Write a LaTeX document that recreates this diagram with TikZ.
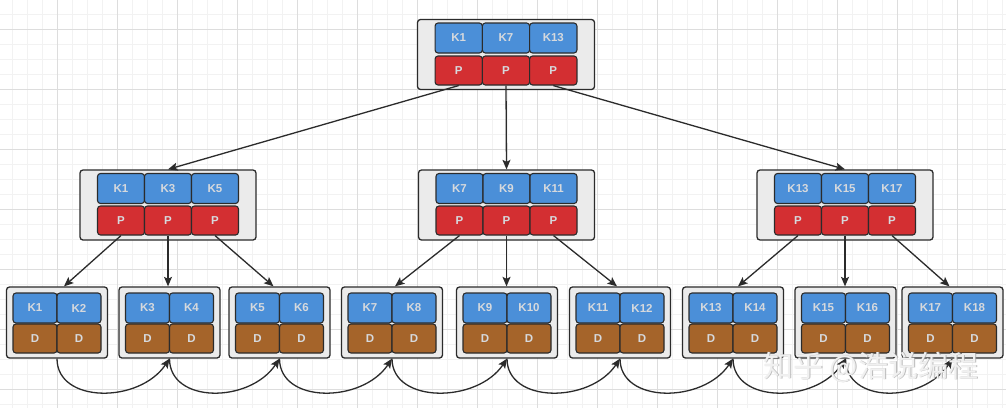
\documentclass[tikz,border=0pt]{standalone}
\usepackage{fontspec}
\setmainfont{Liberation Sans}
\newfontfamily\cjkfont{Noto Sans CJK SC}
\usetikzlibrary{arrows.meta,calc}
\definecolor{kblue}{HTML}{4B8FD8}
\definecolor{pred}{HTML}{D32F32}
\definecolor{dbrown}{HTML}{A5642A}
\definecolor{boxgray}{HTML}{EBEBEB}
\definecolor{edge}{HTML}{2B2B2B}
\definecolor{celltext}{HTML}{D6D9DD}
\definecolor{gridminor}{HTML}{F2F2F2}
\definecolor{gridmajor}{HTML}{DDDDDD}
\definecolor{wmfill}{HTML}{F0F0F0}
\definecolor{wmedge}{HTML}{A0A0A0}
\tikzset{
  outerbox/.style 2 args={draw=edge, fill=boxgray, rounded corners=3pt, line width=1.3pt, minimum width=#1, minimum height=#2, inner sep=0pt},
  cellbase/.style={draw=edge, line width=1.1pt, rounded corners=3pt, inner sep=0pt, text=celltext, font=\bfseries\fontsize{11.5}{11.5}\selectfont},
  kcell/.style={cellbase, fill=kblue, minimum width=#1, minimum height=30pt},
  pcell/.style={cellbase, fill=pred, minimum width=47pt, minimum height=29pt},
  dcell/.style={cellbase, fill=dbrown, minimum width=44pt, minimum height=29pt},
  conn/.style={draw=edge, line width=1.3pt, -{Stealth[length=9.5pt,width=8pt,inset=2pt]}},
  gridminorline/.style={draw=gridminor, line width=0.8pt},
  gridmajorline/.style={draw=gridmajor, line width=0.9pt},
}
\begin{document}
\begin{tikzpicture}[x=1pt,y=-1pt]
\useasboundingbox (0,0) rectangle (1006,408);
\fill[white] (0,0) rectangle (1006,408);
% grid
\foreach \gx in {12.5,27.5,...,1006} {\draw[gridminorline] (\gx,0) -- (\gx,408);}
\foreach \gy in {14,29,...,408} {\draw[gridminorline] (0,\gy) -- (1006,\gy);}
\foreach \gx in {57.5,117.5,...,1006} {\draw[gridmajorline] (\gx,0) -- (\gx,408);}
\foreach \gy in {29,89,...,408} {\draw[gridmajorline] (0,\gy) -- (1006,\gy);}

% root
\node[outerbox={177pt}{70pt}] (r) at (506,54.5) {};
\foreach \c/\dx/\t in {1/-47.3/K1, 2/0/K7, 3/47.3/K13} {
  \node[kcell=47.3pt] (rk\c) at (506+\dx,38) {\t};
  \node[pcell, minimum width=47.3pt] (rp\c) at (506+\dx,70.5) {P};
}

% middle level
\foreach \m/\mx/\ta/\tb/\tc in {1/168/K1/K3/K5, 2/506.5/K7/K9/K11, 3/845/K13/K15/K17} {
  \node[outerbox={176pt}{70pt}] (m\m) at (\mx,205) {};
  \node[kcell=47pt] (m\m k1) at (\mx-47,188.5) {\ta};
  \node[kcell=47pt] (m\m k2) at (\mx,188.5) {\tb};
  \node[kcell=47pt] (m\m k3) at (\mx+47,188.5) {\tc};
  \node[pcell] (m\m p1) at (\mx-47,220.5) {P};
  \node[pcell] (m\m p2) at (\mx,220.5) {P};
  \node[pcell] (m\m p3) at (\mx+47,220.5) {P};
}

% leaves
\foreach \i/\lx/\ta/\tb in {1/57/K1/K2, 2/169.5/K3/K4, 3/279.5/K5/K6, 4/392/K7/K8, 5/507/K9/K10, 6/620/K11/K12, 7/733/K13/K14, 8/845.5/K15/K16, 9/952.5/K17/K18} {
  \node[outerbox={101pt}{71pt}] (l\i) at (\lx,322.5) {};
  \node[kcell=44pt] (l\i k1) at (\lx-22,308) {\ta};
  \node[kcell=44pt] (l\i k2) at (\lx+22,308) {\tb};
  \node[dcell] (l\i d1) at (\lx-22,338.5) {D};
  \node[dcell] (l\i d2) at (\lx+22,338.5) {D};
}

% root -> middle
\draw[conn] (rp1.south) -- (m1.north);
\draw[conn] (rp2.south) -- (m2.north);
\draw[conn] (rp3.south) -- (m3.north);

% middle -> leaves
\draw[conn] (m1p1.south) -- ([xshift=7pt]l1.north);
\draw[conn] (m1p2.south) -- (m1p2.south |- l2.north);
\draw[conn] (m1p3.south) -- ([xshift=-6pt]l3.north);
\draw[conn] (m2p1.south) -- ([xshift=3pt]l4.north);
\draw[conn] (m2p2.south) -- (m2p2.south |- l5.north);
\draw[conn] (m2p3.south) -- ([xshift=-3pt]l6.north);
\draw[conn] (m3p1.south) -- ([xshift=5pt]l7.north);
\draw[conn] (m3p2.south) -- (m3p2.south |- l8.north);
\draw[conn] (m3p3.south) -- ([xshift=-3pt]l9.north);

% leaf links
\foreach \i/\j in {1/2,2/3,3/4,4/5,5/6,6/7,7/8,8/9} {
  \draw[conn] (l\i.south) .. controls +(0,45) and +(-30,45) .. (l\j.south);
}

% watermark
\node[font=\cjkfont\fontsize{30}{30}\selectfont, text=wmedge, anchor=west, inner sep=0pt, opacity=0.7] (wmshadow) at (763.8,367.8) {知乎 @浩说编程};
\node[font=\cjkfont\fontsize{30}{30}\selectfont, text=wmfill, anchor=west, inner sep=0pt] (wm) at (763,367) {知乎 @浩说编程};
\end{tikzpicture}
\end{document}
